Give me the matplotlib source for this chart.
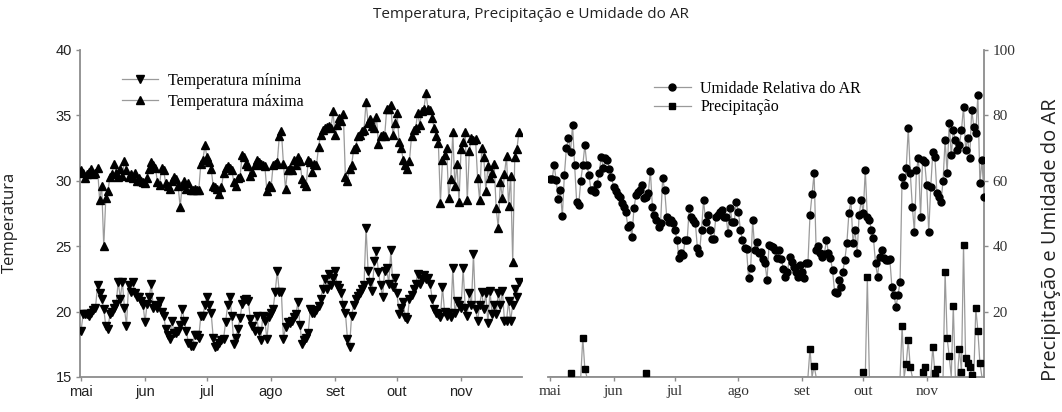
import numpy as np
import pandas as pd
import matplotlib
matplotlib.use("Agg")
import matplotlib.pyplot as plt
from matplotlib.lines import Line2D

# ---------------- data (daily, from 1 May) ----------------
month_labels = ["mai", "jun", "jul", "ago", "set", "out", "nov"]

temp_max = [
    30.8, 30.6, 30.2, 30.5, 30.7, 30.9, 30.5, 30.6, 31.0, 28.5,
    29.6, 25.0, 28.7, 29.2, 30.3, 30.5, 31.3, 30.6, 30.3, 30.9,
    30.4, 31.5, 30.8, 30.3, 30.5, 30.2, 30.6, 30.0, 30.2, 30.0,
    29.9, 29.8, 30.2, 30.9, 31.4, 31.2, 31.0, 29.9, 29.7, 31.0,
    30.8, 29.8, 29.6, 29.4, 30.0, 30.3, 30.1, 29.6, 28.0, 29.7,
    30.0, 29.4, 29.8, 29.3, 29.3, 29.4, 29.3, 29.3, 31.3, 31.6,
    32.7, 31.8, 31.4, 30.9, 29.6, 29.5, 29.4, 29.0, 29.5, 30.6,
    31.0, 31.1, 31.0, 30.8, 29.9, 29.6, 30.2, 30.3, 32.0, 31.8,
    31.3, 31.1, 30.4, 30.7, 31.2, 31.6, 31.4, 31.3, 31.2, 31.1,
    29.2, 29.7, 29.5, 31.2, 31.3, 31.4, 33.4, 33.8, 31.3, 29.4,
    30.8, 31.0, 30.8, 31.6, 31.2, 31.8, 31.5, 30.1, 29.8, 29.6,
    31.6, 31.4, 30.7, 31.3, 31.2, 32.6, 33.5, 33.9, 34.0, 34.1,
    34.2, 34.0, 35.3, 33.5, 34.3, 34.8, 34.6, 35.1,
    30.3, 30.0, 30.9, 31.2, 32.4, 32.6, 33.4, 33.5, 33.8, 33.9,
    36.0, 34.4, 34.7, 34.2, 34.0, 34.9, 32.8, 33.4, 33.5, 33.4,
    35.5, 35.5, 35.8, 33.5, 34.4, 35.2, 33.0, 32.5, 31.6, 31.2,
    30.9, 31.5, 33.4, 33.9, 34.0, 35.2, 34.3, 35.3, 35.5, 36.7,
    35.5, 35.4, 34.8, 34.0, 33.4, 32.9, 28.3, 31.6, 32.0, 32.5,
    28.7, 30.1, 33.7, 29.6, 31.3, 28.4, 32.4, 33.0, 33.7, 28.5,
    32.3, 33.3, 33.1, 33.2, 30.2, 28.5, 32.5, 31.8, 29.2, 31.1,
    30.2, 30.6, 31.3, 27.9, 26.4, 29.9, 28.7, 30.5, 31.9, 28.1,
    30.4, 23.8, 31.8, 32.4, 33.7,
]

temp_min = [
    18.5, 19.8, 19.8, 19.8, 19.7, 19.9, 20.1, 20.3, 22.0, 21.4,
    21.0, 20.2, 18.9, 18.7, 19.8, 20.0, 20.3, 20.6, 22.3, 21.0,
    22.3, 20.3, 18.9, 22.0, 21.5, 22.3, 21.4, 21.1, 21.1, 20.8,
    20.5, 19.2, 20.6, 21.1, 22.1, 20.3, 20.5, 20.3, 20.8, 20.0,
    19.7, 18.7, 18.2, 17.9, 19.3, 18.4, 18.4, 18.5, 19.0, 20.2,
    19.3, 18.5, 17.6, 17.4, 17.4, 18.2, 18.2, 18.0, 19.7, 19.7,
    20.5, 21.1, 20.5, 19.9, 18.0, 17.3, 17.4, 17.6, 17.8, 17.9,
    19.2, 20.5, 21.1, 19.7, 17.5, 18.0, 18.7, 19.5, 20.6, 20.9,
    21.0, 20.8, 19.4, 18.9, 18.5, 19.7, 18.5, 17.8, 19.7, 19.3,
    17.9, 19.6, 19.9, 20.2, 21.5, 23.1, 21.5, 21.5, 17.9, 18.8,
    19.2, 19.1, 19.3, 19.6, 19.8, 20.7, 19.0, 17.5, 17.8, 18.0,
    18.4, 20.2, 19.9, 19.9, 20.1, 20.4, 21.0, 21.7, 22.5, 21.7,
    22.9, 22.0, 22.6, 23.1, 22.0, 21.8, 21.4, 20.5, 19.9, 17.9,
    17.3, 19.7, 20.5, 21.0, 21.2, 21.4, 21.7, 22.0, 26.4, 23.1,
    22.3, 21.6, 23.9, 24.6, 23.0, 22.0, 21.1, 23.1, 23.3, 22.1,
    24.7, 21.9, 22.6, 21.4, 19.8, 20.3, 20.7, 19.6, 19.4, 21.0,
    21.3, 21.7, 22.1, 22.9, 22.1, 22.5, 22.8, 22.5, 22.6, 22.1,
    21.0, 20.2, 19.9, 19.8, 19.6, 21.9, 20.0, 19.7, 19.9, 19.6,
    23.3, 19.9, 20.8, 20.5, 20.3, 23.3, 20.3, 19.7, 21.4, 20.5,
    24.4, 20.2, 19.3, 20.5, 21.5, 20.2, 21.4, 19.1, 21.6, 19.8,
    20.5, 19.8, 21.4, 20.5, 21.6, 19.3, 19.3, 20.8, 19.3, 20.5,
    21.7, 21.1, 22.3,
]

humidity = [
    60.4, 60.5, 64.8, 60.2, 54.3, 57.2, 49.2, 61.8, 70.0, 73.0,
    68.9, 77.1, 64.8, 53.6, 52.6, 60.0, 64.8, 70.9, 64.8, 61.8,
    57.2, 57.2, 56.7, 59.0, 62.3, 67.4, 63.8, 66.9, 66.5, 63.5,
    61.3, 58.2, 57.0, 55.7, 55.1, 53.1, 52.0, 50.6, 46.0, 46.5,
    42.9, 51.6, 55.7, 56.5, 57.2, 58.7, 54.6, 55.0, 56.2, 63.1,
    52.1, 49.5, 48.0, 46.0, 47.0, 60.8, 57.2, 49.0, 47.5, 48.0,
    47.0, 45.0, 41.9, 36.3, 38.0, 37.3, 41.9, 41.9, 51.6, 49.0,
    48.0, 47.0, 39.3, 37.8, 45.0, 54.1, 47.5, 49.5, 45.0, 42.1,
    42.1, 49.0, 49.5, 50.6, 51.1, 49.0, 49.0, 43.9, 51.6, 47.5,
    47.5, 53.6, 50.6, 45.0, 41.9, 39.3, 39.0, 30.2, 33.2, 48.0,
    38.8, 41.4, 37.8, 38.3, 36.0, 34.8, 29.7, 40.4, 40.0, 39.9,
    38.8, 36.3, 38.8, 36.0, 33.0, 30.7, 32.2, 36.8, 35.3, 33.7,
    32.2, 30.7, 34.3, 32.2, 30.2, 34.8, 35.0, 49.5, 56.0, 62.3,
    38.8, 40.0, 37.8, 36.8, 37.5, 41.9, 38.0,
    36.3, 32.7, 26.1, 25.6, 29.7, 27.6, 32.2, 35.8, 40.9, 50.1,
    54.1, 40.9, 45.0, 37.8, 49.5, 54.1, 50.1, 63.3, 49.0, 48.0,
    45.0, 42.4, 34.8, 30.7, 36.8, 38.8, 36.3, 35.8, 35.8, 36.0,
    27.6, 25.1, 21.5, 25.0, 29.2,
    61.3, 58.7, 63.8, 76.0, 62.3, 52.0, 44.4, 63.3, 66.9, 49.0,
    66.4, 65.9, 58.7, 44.4, 58.2, 68.9, 67.4, 56.2, 55.0, 53.6,
    60.0, 72.5, 62.3, 77.6, 67.9, 75.5, 72.5, 69.4, 71.0, 75.5,
    82.7, 69.4, 73.0, 66.9, 81.7, 76.6, 74.5, 86.2, 59.2, 66.5,
    55.0,
]

# precipitation: rain days (day index from 1 May) and amounts (mm)
rain_days = [10, 16, 17, 47, 127, 129, 153, 155, 172, 174, 175, 176, 182, 183,
             187, 188, 189, 193, 194, 195, 197, 200, 201, 202, 203, 204, 205,
             206, 208, 209, 210]
rain_mm = [1.1, 12.0, 2.5, 1.1, 8.7, 3.4, 1.4, 30.5, 15.6, 4.0, 11.3, 3.0, 1.6, 3.0,
           9.3, 1.1, 2.3, 32.2, 11.8, 6.4, 21.7, 8.5, 1.6, 40.5, 5.7, 4.2, 3.2,
           0.6, 21.0, 14.2, 4.2]

n_days = len(humidity)
precip = np.zeros(n_days)
precip[rain_days] = rain_mm

start = pd.Timestamp("2019-05-01")
month_starts = pd.date_range(start, periods=len(month_labels), freq="MS")
tick_pos = np.asarray((month_starts - start).days)

# ---------------- styling ----------------
LINE_C = "#9a9a9a"
SPINE_C = "#8c8c8c"
SANS = ["Liberation Sans", "DejaVu Sans"]
SERIF = ["Liberation Serif", "DejaVu Serif"]
LABEL_F = ["Open Sans", "DejaVu Sans"]

fig = plt.figure(figsize=(10.62, 4.12), dpi=100)
axL = fig.add_axes([80 / 1062, 35 / 412, 442 / 1062, 327 / 412])
axR = fig.add_axes([548 / 1062, 35 / 412, 436 / 1062, 327 / 412])

xd = np.arange(len(temp_max))
axL.plot(xd, temp_min, color=LINE_C, lw=0.9, marker="v", ms=5.5,
         mfc="black", mec="black", zorder=3)
axL.plot(xd, temp_max, color=LINE_C, lw=0.9, marker="^", ms=5.5,
         mfc="black", mec="black", zorder=3)
axL.set_xlim(-0.5, 213.5)
axL.set_ylim(15, 40)
axL.set_yticks([15, 20, 25, 30, 35, 40])
axL.set_xticks(tick_pos)
axL.set_xticklabels(month_labels)
for s in ["top", "right"]:
    axL.spines[s].set_visible(False)
for s in ["left", "bottom"]:
    axL.spines[s].set_color(SPINE_C)
    axL.spines[s].set_linewidth(1.3)
axL.tick_params(axis="both", direction="out", length=3, width=1, color=SPINE_C,
                labelsize=10.5, labelcolor="#222222", pad=3)
for lab in axL.get_xticklabels() + axL.get_yticklabels():
    lab.set_family(SANS)

legL = [Line2D([], [], color=LINE_C, lw=0.9, marker="v", ms=5.5, mfc="black", mec="black"),
        Line2D([], [], color=LINE_C, lw=0.9, marker="^", ms=5.5, mfc="black", mec="black")]
axL.legend(legL, ["Temperatura mínima", "Temperatura máxima"], loc="upper left",
           bbox_to_anchor=(0.08, 0.95), frameon=False, handlelength=2.3,
           handletextpad=0.6, labelspacing=0.3, borderaxespad=0,
           prop={"family": SERIF, "size": 11.5})

xr = np.arange(n_days)
axR.plot(xr, humidity, color=LINE_C, lw=0.9, marker="o", ms=5,
         mfc="black", mec="black", zorder=3)
axR.plot(xr, precip, color=LINE_C, lw=0.9, zorder=2)
rain = precip > 0
axR.plot(xr[rain], precip[rain], ls="none", marker="s", ms=4.8,
         mfc="black", mec="black", zorder=3)
axR.set_xlim(-1, 212)
axR.set_ylim(0, 100)
axR.yaxis.tick_right()
axR.set_yticks([20, 40, 60, 80, 100])
axR.set_xticks(tick_pos)
axR.set_xticklabels(month_labels)
for s in ["top", "left"]:
    axR.spines[s].set_visible(False)
for s in ["right", "bottom"]:
    axR.spines[s].set_color(SPINE_C)
    axR.spines[s].set_linewidth(1.3)
axR.tick_params(axis="both", direction="out", length=3, width=1, color=SPINE_C,
                labelsize=11, labelcolor="#333333", pad=3)
for lab in axR.get_xticklabels() + axR.get_yticklabels():
    lab.set_family(SERIF)

legR = [Line2D([], [], color=LINE_C, lw=0.9, marker="o", ms=5, mfc="black", mec="black"),
        Line2D([], [], color=LINE_C, lw=0.9, marker="s", ms=4.8, mfc="black", mec="black")]
axR.legend(legR, ["Umidade Relativa do AR", "Precipitação"], loc="upper left",
           bbox_to_anchor=(0.228, 0.925), frameon=False, handlelength=2.3,
           handletextpad=0.6, labelspacing=0.15, borderaxespad=0,
           prop={"family": SERIF, "size": 11.5})

# axis titles and chart title
fig.text(10 / 1062, 1 - 222 / 412, "Temperatura", rotation=90, ha="center",
         va="center", family=LABEL_F, fontsize=12, color="#222222")
fig.text(1051 / 1062, 1 - 240 / 412, "Precipitação e Umidade do AR", rotation=90,
         ha="center", va="center", family=LABEL_F, fontsize=14.5, color="#222222")
fig.text(0.5, 1 - 14 / 412, "Temperatura, Precipitação e Umidade do AR",
         ha="center", va="center", family=LABEL_F, fontsize=11, color="#222222")

fig.savefig("out.png", dpi=100)
